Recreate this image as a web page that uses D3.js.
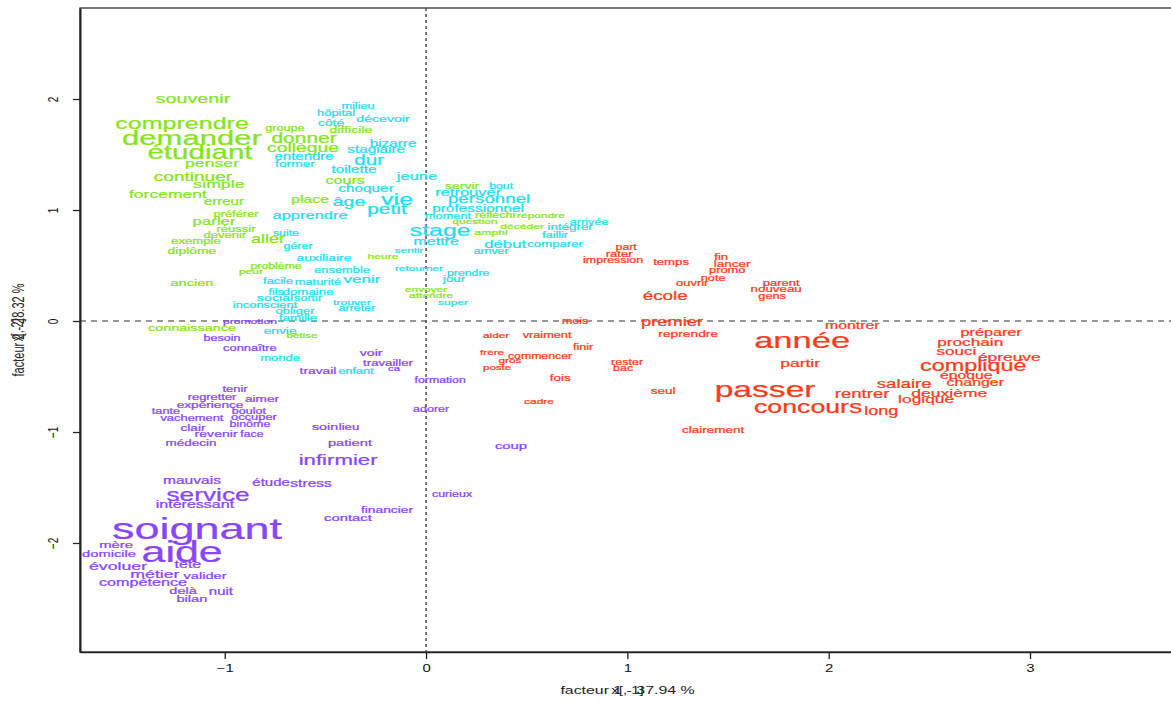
<!DOCTYPE html>
<html>
<head>
<meta charset="utf-8">
<script src="https://cdn.jsdelivr.net/npm/d3@7"></script>
<style>
  body { margin: 0; background: #fff; }
  svg { display: block; }
  text { font-family: "Liberation Sans", Arial, Helvetica, sans-serif; }
</style>
</head>
<body>
<svg id="chart" width="1171" height="702"></svg>
<script>
// Axis ticks and titles
const xTicks = [-1, 0, 1, 2, 3];
const yTicks = [-2, -1, 0, 1, 2];
const xTitle = "facteur  1 - 37.94 %";
const yTitle = "facteur 2 - 28.32 %";
const xVarName = "x[, 1]";
const yVarName = "x[, 2]";

// Each class: [forme, facteur 1, facteur 2, poids]
const classe1 = [ // red
  ["part", 0.994, 0.667, 82], ["rater", 0.959, 0.604, 87], ["impression", 0.929, 0.550, 83],
  ["temps", 1.217, 0.532, 88], ["fin", 1.466, 0.577, 88], ["lancer", 1.520, 0.514, 90],
  ["promo", 1.496, 0.459, 86], ["note", 1.426, 0.387, 85], ["ouvrir", 1.322, 0.342, 86],
  ["parent", 1.764, 0.342, 87], ["nouveau", 1.739, 0.288, 89], ["gens", 1.719, 0.225, 85],
  ["école", 1.188, 0.234, 126], ["mois", 0.740, 0.000, 83], ["premier", 1.222, -0.009, 122],
  ["montrer", 2.117, -0.036, 106], ["aider", 0.348, -0.126, 79], ["vraiment", 0.601, -0.126, 85],
  ["reprendre", 1.302, -0.108, 92], ["année", 1.868, -0.171, 230], ["préparer", 2.807, -0.099, 108],
  ["prochain", 2.703, -0.189, 115], ["souci", 2.634, -0.270, 114], ["épreuve", 2.897, -0.324, 116],
  ["compliqué", 2.718, -0.405, 156], ["époque", 2.683, -0.495, 105], ["changer", 2.728, -0.550, 106],
  ["frère", 0.328, -0.279, 78], ["commencer", 0.566, -0.315, 82], ["gros", 0.417, -0.351, 79],
  ["poste", 0.353, -0.414, 77], ["finir", 0.780, -0.234, 83], ["rester", 0.999, -0.369, 84],
  ["bac", 0.979, -0.423, 83], ["partir", 1.858, -0.378, 117], ["fois", 0.666, -0.514, 90],
  ["seul", 1.178, -0.631, 90], ["salaire", 2.375, -0.568, 124], ["deuxième", 2.599, -0.649, 117],
  ["rentrer", 2.166, -0.658, 124], ["logique", 2.484, -0.703, 116], ["passer", 1.684, -0.613, 224],
  ["concours", 1.898, -0.775, 178], ["long", 2.261, -0.811, 120], ["cadre", 0.561, -0.721, 80],
  ["clairement", 1.426, -0.982, 90]
];

const classe2 = [ // green
  ["souvenir", -1.158, 2.000, 132], ["comprendre", -1.212, 1.775, 167], ["demander", -1.163, 1.649, 207],
  ["étudiant", -1.123, 1.523, 197], ["penser", -1.063, 1.423, 118], ["continuer", -1.158, 1.306, 127],
  ["simple", -1.029, 1.234, 118], ["forcement", -1.282, 1.144, 117], ["erreur", -1.004, 1.081, 100],
  ["préférer", -0.944, 0.964, 86], ["parler", -1.053, 0.901, 112], ["réussir", -0.944, 0.829, 87],
  ["devenir", -0.999, 0.775, 87], ["exemple", -1.143, 0.721, 88], ["aller", -0.785, 0.739, 120],
  ["diplôme", -1.163, 0.631, 93], ["groupe", -0.701, 1.739, 84], ["donner", -0.606, 1.649, 140],
  ["collègue", -0.611, 1.568, 129], ["difficile", -0.373, 1.721, 94], ["cours", -0.402, 1.270, 107],
  ["place", -0.576, 1.099, 105], ["heure", -0.214, 0.586, 81], ["servir", 0.179, 1.216, 93],
  ["réfléchi", 0.343, 0.955, 83], ["répondre", 0.571, 0.955, 80], ["question", 0.243, 0.901, 80],
  ["décéder", 0.477, 0.856, 81], ["amphi", 0.323, 0.802, 81], ["envoyer", 0.000, 0.288, 79],
  ["attendre", 0.025, 0.234, 80], ["problème", -0.745, 0.495, 82], ["peur", -0.870, 0.450, 80],
  ["ancien", -1.163, 0.342, 97], ["connaissance", -1.163, -0.063, 96], ["bêtise", -0.616, -0.126, 78]
];

const classe3 = [ // cyan
  ["milieu", -0.338, 1.937, 85], ["hôpital", -0.447, 1.874, 86], ["côté", -0.472, 1.793, 92],
  ["décevoir", -0.214, 1.820, 94], ["bizarre", -0.164, 1.604, 102], ["stagiaire", -0.248, 1.541, 102],
  ["entendre", -0.606, 1.486, 100], ["former", -0.651, 1.423, 92], ["dur", -0.283, 1.450, 138],
  ["toilette", -0.358, 1.369, 102], ["jeune", -0.045, 1.306, 110], ["choquer", -0.298, 1.198, 102],
  ["âge", -0.383, 1.072, 130], ["vie", -0.144, 1.099, 167], ["petit", -0.194, 1.009, 140],
  ["apprendre", -0.576, 0.955, 110], ["suite", -0.696, 0.793, 82], ["gérer", -0.636, 0.676, 83],
  ["stage", 0.070, 0.820, 166], ["mettre", 0.050, 0.721, 107], ["sentir", -0.084, 0.640, 78],
  ["auxiliaire", -0.507, 0.568, 93], ["bout", 0.373, 1.216, 82], ["retrouver", 0.209, 1.162, 110],
  ["personnel", 0.313, 1.099, 125], ["professionnel", 0.258, 1.018, 103], ["moment", 0.109, 0.946, 85],
  ["arrivée", 0.810, 0.892, 85], ["intégrer", 0.716, 0.847, 89], ["faillir", 0.641, 0.775, 84],
  ["début", 0.393, 0.694, 112], ["comparer", 0.641, 0.694, 88], ["arriver", 0.323, 0.631, 82],
  ["retourner", -0.035, 0.477, 79], ["prendre", 0.209, 0.432, 82], ["jour", 0.139, 0.378, 89],
  ["super", 0.134, 0.171, 80], ["facile", -0.735, 0.360, 86], ["maturité", -0.537, 0.351, 86],
  ["venir", -0.318, 0.378, 114], ["ensemble", -0.417, 0.459, 86], ["fils", -0.745, 0.261, 82],
  ["domaine", -0.586, 0.261, 89], ["social", -0.750, 0.207, 95], ["sortir", -0.586, 0.207, 84],
  ["trouver", -0.368, 0.171, 81], ["arrêter", -0.343, 0.117, 84], ["inconscient", -0.800, 0.144, 86],
  ["obliger", -0.651, 0.090, 87], ["famille", -0.636, 0.027, 88], ["envie", -0.725, -0.081, 92],
  ["monde", -0.725, -0.333, 87], ["enfant", -0.348, -0.450, 84]
];

const classe4 = [ // purple
  ["promotion", -0.875, 0.000, 81], ["besoin", -1.014, -0.153, 84], ["connaître", -0.875, -0.243, 86],
  ["voir", -0.273, -0.288, 95], ["travailler", -0.189, -0.378, 88], ["ca", -0.159, -0.423, 75],
  ["travail", -0.537, -0.450, 92], ["formation", 0.070, -0.532, 82], ["adorer", 0.025, -0.793, 83],
  ["soin", -0.502, -0.955, 95], ["lieu", -0.383, -0.955, 88], ["patient", -0.378, -1.099, 98],
  ["infirmier", -0.437, -1.252, 148], ["étude", -0.770, -1.459, 100], ["stress", -0.571, -1.468, 104],
  ["curieux", 0.129, -1.559, 83], ["financier", -0.194, -1.694, 92], ["contact", -0.388, -1.775, 99],
  ["coup", 0.422, -1.126, 99], ["tenir", -0.949, -0.613, 86], ["regretter", -1.063, -0.685, 86],
  ["aimer", -0.815, -0.694, 91], ["expérience", -1.073, -0.748, 91], ["tante", -1.292, -0.811, 85],
  ["boulot", -0.880, -0.811, 84], ["vachement", -1.163, -0.874, 86], ["occuper", -0.855, -0.865, 86],
  ["binôme", -0.875, -0.928, 83], ["clair", -1.158, -0.955, 91], ["revenir", -1.043, -1.018, 94],
  ["face", -0.865, -1.018, 82], ["médecin", -1.168, -1.099, 90], ["mauvais", -1.163, -1.441, 104],
  ["service", -1.083, -1.568, 175], ["intéressant", -1.148, -1.649, 107], ["soignant", -1.138, -1.865, 300],
  ["aide", -1.212, -2.081, 286], ["mère", -1.540, -2.018, 99], ["domicile", -1.575, -2.099, 98],
  ["tête", -1.183, -2.189, 107], ["évoluer", -1.530, -2.207, 118], ["métier", -1.347, -2.279, 118],
  ["valider", -1.098, -2.297, 98], ["compétence", -1.406, -2.360, 108], ["delà", -1.207, -2.432, 97],
  ["nuit", -1.019, -2.441, 100], ["bilan", -1.163, -2.505, 98]
];

const classes = [
  { mots: classe1, couleur: "#ff3a1c" },
  { mots: classe2, couleur: "#84e41f" },
  { mots: classe3, couleur: "#1fdcee" },
  { mots: classe4, couleur: "#8846fb" }
];

const svg = d3.select("#chart");
const plot = { left: 80, top: 8, right: 1179, bottom: 652 };
const stretch = 1.5; // device aspect: glyphs are wider than tall

const x = d3.scaleLinear().domain([-1.719, 3.74]).range([plot.left, plot.right]);
const y = d3.scaleLinear().domain([-2.982, 2.820]).range([plot.bottom, plot.top]);
const fontSize = d3.scaleLinear().domain([0, 300]).range([0, 30]);

// Plot frame
svg.append("rect")
  .attr("x", plot.left).attr("y", plot.top)
  .attr("width", plot.right - plot.left).attr("height", plot.bottom - plot.top)
  .attr("fill", "none").attr("stroke", "#222").attr("stroke-width", 1.2);

// Reference lines through the origin
svg.append("line")
  .attr("x1", plot.left).attr("x2", plot.right)
  .attr("y1", y(0)).attr("y2", y(0))
  .attr("stroke", "#777").attr("stroke-width", 1.3).attr("stroke-dasharray", "6,5");
svg.append("line")
  .attr("x1", x(0)).attr("x2", x(0))
  .attr("y1", plot.top).attr("y2", plot.bottom)
  .attr("stroke", "#555").attr("stroke-width", 1.6).attr("stroke-dasharray", "3,3");

// Axes
const gx = svg.append("g")
  .attr("transform", `translate(0,${plot.bottom})`)
  .call(d3.axisBottom(x).tickValues(xTicks).tickSize(7).tickSizeOuter(0).tickFormat(d3.format("d")));
gx.select(".domain").attr("stroke", "#222").attr("stroke-width", 1.6);
gx.selectAll(".tick line").attr("stroke", "#222").attr("stroke-width", 1.3);
gx.selectAll(".tick text")
  .attr("fill", "#111").attr("font-size", 10).attr("y", 0).attr("dy", null)
  .attr("dominant-baseline", "central")
  .attr("transform", `translate(0,16) scale(${stretch},1)`);

const gy = svg.append("g")
  .attr("transform", `translate(${plot.left},0)`)
  .call(d3.axisLeft(y).tickValues(yTicks).tickSize(7).tickSizeOuter(0).tickFormat(d3.format("d")));
gy.select(".domain").attr("stroke", "#222").attr("stroke-width", 2);
gy.selectAll(".tick line").attr("stroke", "#222").attr("stroke-width", 1.3);
gy.selectAll(".tick text")
  .attr("fill", "#111").attr("font-size", 10).attr("x", 0).attr("dy", null)
  .attr("text-anchor", "middle").attr("dominant-baseline", "central")
  .attr("transform", `translate(-27,0) scale(${stretch},1) rotate(-90)`);

// Axis titles (variable name printed over the factor title)
const cx = (plot.left + 1175) / 2, cy = (plot.top + plot.bottom) / 2;
[[xTitle, 10.6], [xVarName, 10]].forEach(([t, fs]) => {
  svg.append("text")
    .attr("transform", `translate(${cx},${690}) scale(${stretch},1)`)
    .attr("text-anchor", "middle").attr("dominant-baseline", "central")
    .attr("font-size", fs).attr("fill", "#222").text(t);
});
[[yTitle, 11], [yVarName, 10.5]].forEach(([t, fs]) => {
  svg.append("text")
    .attr("transform", `translate(18,${cy}) scale(${stretch},1) rotate(-90)`)
    .attr("text-anchor", "middle").attr("dominant-baseline", "central")
    .attr("font-size", fs).attr("fill", "#222").text(t);
});

// Words
classes.forEach(c => {
  svg.append("g")
    .selectAll("text")
    .data(c.mots)
    .join("text")
    .attr("transform", d => `translate(${x(d[1])},${y(d[2])}) scale(${stretch},1)`)
    .attr("text-anchor", "middle")
    .attr("dominant-baseline", "central")
    .attr("font-size", d => fontSize(d[3]))
    .attr("fill", c.couleur)
    .attr("stroke", c.couleur)
    .attr("stroke-width", 0.25)
    .text(d => d[0]);
});
</script>
</body>
</html>
